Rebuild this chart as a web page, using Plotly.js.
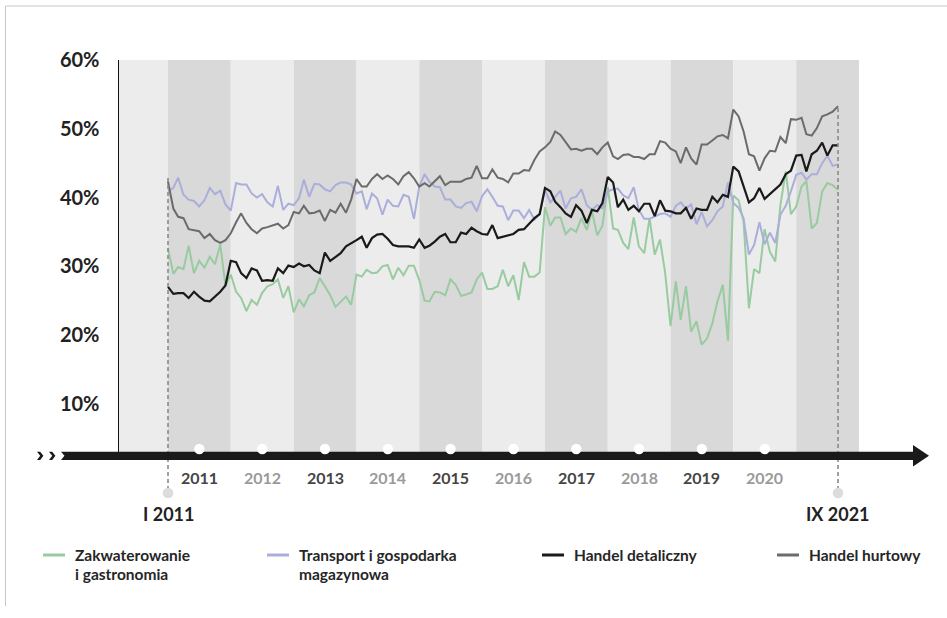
<!DOCTYPE html>
<html><head><meta charset="utf-8">
<script src="https://cdn.plot.ly/plotly-3.0.1.min.js"></script>
<style>html,body{margin:0;padding:0;background:#fff}#chart{width:947px;height:618px}</style>
</head><body><div id="chart"></div>
<script>
// ---- data (monthly, I 2011 .. IX 2021, %) ----
const seriesNames = ['Zakwaterowanie i gastronomia', 'Transport i gospodarka magazynowa', 'Handel detaliczny', 'Handel hurtowy'];
const zakwaterowanie = [32.6,28.9,29.9,29.6,33.0,29.0,30.8,29.8,31.4,30.3,33.2,27.2,
 28.8,26.3,25.4,23.5,25.1,24.4,26.1,27.1,27.4,28.1,25.4,27.1,
 23.3,25.2,24.2,25.8,26.2,28.3,27.1,25.8,24.1,24.9,25.6,24.4,
 28.8,28.5,29.5,29.0,29.1,30.0,30.2,28.1,29.8,28.7,30.1,30.1,
 28.0,25.0,24.9,26.3,26.2,25.8,28.1,27.3,25.7,25.9,26.2,28.1,
 29.1,26.7,26.7,27.1,29.5,27.1,28.7,25.1,30.6,28.5,28.5,29.1,
 38.6,35.9,37.1,37.1,34.7,35.5,35.0,37.0,35.3,38.0,34.5,35.9,
 41.5,35.5,35.3,33.4,32.5,37.1,32.9,31.9,37.0,31.7,33.9,29.0,
 21.3,27.8,22.2,27.1,20.5,22.0,18.6,19.5,21.7,24.9,27.3,19.2,
 40.3,39.6,36.5,23.9,29.6,29.0,35.4,32.1,30.7,38.9,43.8,37.6,
 38.7,41.6,42.4,35.5,36.3,40.9,42.1,41.8,41.1];
const transport = [40.9,41.4,42.9,40.4,39.7,39.5,38.7,39.6,41.4,40.5,41.0,39.0,
 38.1,42.1,41.9,41.9,40.6,40.0,40.5,39.3,38.7,41.7,38.2,39.1,
 38.9,39.9,42.6,40.1,42.0,41.9,41.2,40.9,41.8,42.2,42.2,41.9,
 40.6,40.9,38.3,40.6,39.9,37.5,39.7,38.8,38.7,40.4,40.1,36.9,
 41.6,43.4,42.3,41.6,41.5,39.7,39.7,38.7,38.5,39.2,39.4,38.0,
 40.2,41.2,40.1,38.8,38.7,36.7,38.1,38.1,37.0,38.2,36.8,37.6,
 41.1,39.3,40.1,41.0,38.4,39.9,40.1,41.2,38.9,38.2,38.9,38.4,
 40.9,41.2,41.3,40.3,39.9,41.5,38.2,36.9,36.9,37.3,37.6,37.7,
 37.2,38.8,39.3,38.4,39.0,36.1,37.9,35.8,36.7,38.0,38.7,42.2,
 39.2,38.5,37.0,31.7,33.1,36.4,33.2,34.9,33.4,37.5,38.8,40.9,
 43.3,43.6,42.6,43.4,43.4,45.0,46.1,44.6,44.8];
const detaliczny = [27.0,26.0,26.1,26.1,25.4,26.3,25.6,25.0,24.9,25.6,26.3,27.2,
 30.8,30.6,29.0,28.3,29.7,29.4,27.9,28.0,27.9,29.7,29.0,30.1,
 29.9,30.4,30.0,30.2,29.4,29.0,32.0,30.8,31.4,31.9,32.9,33.4,
 33.8,34.3,32.7,34.1,34.6,34.7,34.0,33.1,32.9,32.9,32.9,32.7,
 33.9,32.7,33.0,33.6,34.3,34.7,33.5,33.5,34.9,34.7,35.6,35.1,
 34.7,34.6,36.0,34.1,34.3,34.4,34.7,35.3,35.4,36.2,37.0,37.6,
 41.4,40.9,39.4,38.6,37.7,37.2,38.9,38.1,36.3,38.2,38.0,39.2,
 43.0,42.2,38.6,39.7,38.2,38.8,38.0,39.1,39.1,37.3,39.6,38.1,
 38.0,37.7,37.7,38.5,36.9,38.4,38.2,38.2,40.1,39.3,40.4,40.1,
 44.5,43.8,41.6,39.3,39.9,41.4,39.8,40.5,41.2,41.9,43.4,43.9,
 46.1,46.2,43.8,46.3,46.8,48.0,46.1,47.6,47.6];
const hurtowy = [42.3,38.4,37.2,37.0,35.4,35.2,35.1,34.1,34.7,33.8,33.4,33.8,
 34.8,36.4,37.7,36.3,35.4,34.8,35.5,35.7,36.0,36.2,35.5,36.0,
 37.9,37.7,38.8,37.7,37.8,38.1,36.6,38.2,37.8,39.1,37.8,39.7,
 42.7,41.6,41.6,42.7,43.4,42.7,43.2,42.7,41.9,43.1,43.7,42.8,
 41.6,42.1,41.6,42.3,43.1,41.8,42.3,42.3,42.3,42.7,42.9,44.6,
 42.8,42.8,44.1,42.9,42.7,42.2,43.5,43.5,44.0,43.9,45.5,46.7,
 47.3,48.1,49.6,49.1,48.0,47.0,47.1,46.8,47.1,47.1,46.3,47.3,
 48.0,46.0,45.6,46.2,46.3,45.9,45.9,45.6,46.3,46.3,48.2,48.0,
 47.1,46.7,45.0,47.3,45.7,44.8,47.7,47.7,48.3,48.9,49.1,48.6,
 52.8,51.8,49.6,46.3,46.0,43.9,45.7,46.8,46.7,48.8,47.9,51.4,
 51.3,51.6,49.2,49.0,50.1,51.8,52.1,52.5,53.3];
const yTickVals = [10, 20, 30, 40, 50, 60];
const yTickText = ['10%', '20%', '30%', '40%', '50%', '60%'];
const yearLabels = ['2011','2012','2013','2014','2015','2016','2017','2018','2019','2020'];
const bandYears = [2010,2011,2012,2013,2014,2015,2016,2017,2018,2019,2020,2021];
const startLabel = 'I 2011', endLabel = 'IX 2021';

// month dates
const months = [];
for (let i = 0; i < hurtowy.length; i++) {
  const y = 2011 + Math.floor(i / 12), m = i % 12 + 1;
  months.push(y + '-' + String(m).padStart(2, '0') + '-01');
}

// geometry helpers (pixel -> paper)
const L = 119, R = 859, T = 60, B = 452;
const px = x => (x - L) / (R - L);
const py = y => (B - y) / (B - T);
const FONT = 'Lato, "Open Sans", sans-serif';

const colors = ['#98cba0', '#aaaedb', '#1a1a1a', '#6b6b6b'];
const series = [zakwaterowanie, transport, detaliczny, hurtowy];
const traces = series.map((s, k) => ({
  type: 'scatter', mode: 'lines', x: months, y: s, name: seriesNames[k],
  line: {color: colors[k], width: k === 2 ? 2.2 : 2}, showlegend: false, hoverinfo: 'skip'
}));

const shapes = [];
// alternating year bands
bandYears.forEach((yr, k) => {
  shapes.push({type: 'rect', layer: 'below', xref: 'x', yref: 'paper',
    x0: k === 0 ? '2010-03-01' : yr + '-01-01', x1: (yr + 1) + '-01-01', y0: 0, y1: 1,
    fillcolor: yr % 2 === 0 ? '#ececec' : '#d9d9d9', line: {width: 0}});
});
// dashed markers at start/end
const dashTops = [py(177), py(106)];
[months[0], months[months.length - 1]].forEach((d, k) => {
  shapes.push({type: 'line', layer: 'above', xref: 'x', yref: 'paper', x0: d, x1: d,
    y0: py(490), y1: dashTops[k], line: {color: '#8a8a8a', width: 1.6, dash: '4px,3px'}});
  shapes.push({type: 'circle', layer: 'above', xref: 'x', yref: 'paper', xsizemode: 'pixel', ysizemode: 'pixel',
    xanchor: d, yanchor: py(493), x0: -5.3, x1: 5.3, y0: -5.3, y1: 5.3,
    fillcolor: '#dcdcdc', line: {width: 0}});
});
// axis arrow bar
const pts = [[61,451.7],[913,451.7],[913,445],[929,455.8],[913,466.5],[913,460],[61,460],[64.5,455.8]];
shapes.push({type: 'path', layer: 'above', xref: 'paper', yref: 'paper',
  path: 'M' + pts.map(p => px(p[0]).toFixed(5) + ',' + py(p[1]).toFixed(5)).join(' L') + ' Z',
  fillcolor: '#1a1a1a', line: {width: 0}});
// small chevrons at the start
[37, 49].forEach(x0 => {
  const c = [[x0,451.7],[x0+3.2,451.7],[x0+6.4,455.8],[x0+3.2,460],[x0,460],[x0+3.2,455.8]];
  shapes.push({type: 'path', layer: 'above', xref: 'paper', yref: 'paper',
    path: 'M' + c.map(p => px(p[0]).toFixed(5) + ',' + py(p[1]).toFixed(5)).join(' L') + ' Z',
    fillcolor: '#1a1a1a', line: {width: 0}});
});
// white year dots on the axis
yearLabels.forEach(y => {
  shapes.push({type: 'circle', layer: 'above', xref: 'x', yref: 'paper', xsizemode: 'pixel', ysizemode: 'pixel',
    xanchor: y + '-07-02', yanchor: py(449), x0: -5.2, x1: 5.2, y0: -5.2, y1: 5.2,
    fillcolor: '#ffffff', line: {width: 0}});
});
// frame
shapes.push({type: 'line', layer: 'above', xref: 'paper', yref: 'paper', x0: px(5.5), x1: px(5.5), y0: py(6), y1: py(606), line: {color: '#c8c8c8', width: 1}});
shapes.push({type: 'line', layer: 'above', xref: 'paper', yref: 'paper', x0: px(5.5), x1: px(947), y0: py(6), y1: py(6), line: {color: '#c8c8c8', width: 1}});

const annotations = [];
yearLabels.forEach((y, k) => {
  annotations.push({xref: 'x', yref: 'paper', x: y + '-07-02', y: py(477), text: y, showarrow: false,
    xanchor: 'center', yanchor: 'middle',
    font: {family: FONT, size: 16, weight: 700, color: k % 2 === 0 ? '#454545' : '#9a9a9a'}});
});
annotations.push({xref: 'x', yref: 'paper', x: months[0], y: py(514), text: startLabel, showarrow: false,
  xanchor: 'center', yanchor: 'middle', font: {family: FONT, size: 18, weight: 700, color: '#222'}});
annotations.push({xref: 'x', yref: 'paper', x: months[months.length - 1], y: py(514), text: endLabel, showarrow: false,
  xanchor: 'center', yanchor: 'middle', font: {family: FONT, size: 18, weight: 700, color: '#222'}});

// legend (drawn manually)
const legSw = [43, 267, 542, 777];
const legLines = [['Zakwaterowanie', 'i gastronomia'], ['Transport i gospodarka', 'magazynowa'], ['Handel detaliczny'], ['Handel hurtowy']];
legLines.forEach((lines, k) => {
  shapes.push({type: 'line', layer: 'above', xref: 'paper', yref: 'paper',
    x0: px(legSw[k]), x1: px(legSw[k] + 22), y0: py(555), y1: py(555),
    line: {color: colors[k], width: 3}});
  lines.forEach((t, j) => {
    annotations.push({xref: 'paper', yref: 'paper', x: px(legSw[k] + 30), y: py(555 + j * 19), text: t,
      showarrow: false, xanchor: 'left', yanchor: 'middle',
      font: {family: FONT, size: 15.5, weight: 700, color: '#262626'}});
  });
});

const layout = {
  width: 947, height: 618,
  margin: {l: L, r: 947 - R, t: T, b: 618 - B},
  paper_bgcolor: '#ffffff', plot_bgcolor: '#ffffff',
  showlegend: false,
  xaxis: {type: 'date', range: ['2010-03-22', '2022-01-01'], showgrid: false, zeroline: false,
    showticklabels: false, ticks: '', showline: false, fixedrange: true},
  yaxis: {range: [3.0, 60], tickvals: yTickVals, ticktext: yTickText, showgrid: false, zeroline: false,
    showline: true, linecolor: '#111111', linewidth: 1.5, ticks: '', ticklabelstandoff: 14,
    tickfont: {family: FONT, size: 20, weight: 700, color: '#222222'}, fixedrange: true},
  shapes: shapes, annotations: annotations
};
Plotly.newPlot('chart', traces, layout, {staticPlot: true, displayModeBar: false});
</script></body></html>
